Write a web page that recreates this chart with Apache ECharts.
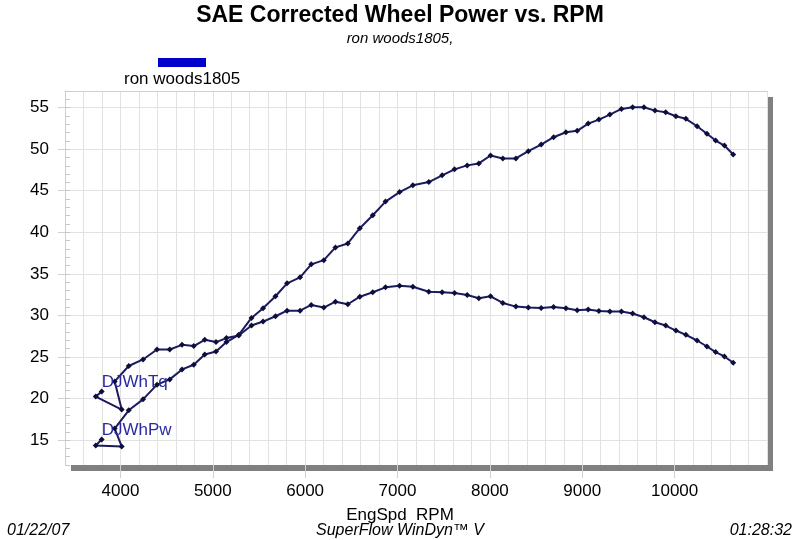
<!DOCTYPE html>
<html>
<head>
<meta charset="utf-8">
<script src="https://cdn.jsdelivr.net/npm/echarts@6/dist/echarts.min.js"></script>
<style>html,body{margin:0;padding:0;background:#fff}#c{width:800px;height:540px}</style>
</head>
<body>
<div id="c"></div>
<script>
// Data
const RPM = [3797,3733,4014,3938,4090,4245,4396,4534,4667,4794,4913,5035,5148,5281,5419,5544,5679,5804,5945,6066,6202,6328,6462,6592,6732,6870,7022,7166,7339,7483,7617,7754,7880,8007,8140,8281,8416,8555,8689,8823,8945,9064,9180,9299,9424,9545,9668,9787,9903,10014,10122,10243,10350,10444,10539,10634];
const TORQUE = [20.83,20.23,18.67,22.06,23.91,24.70,25.90,25.90,26.46,26.31,27.06,26.79,27.27,27.58,28.78,29.26,29.90,30.57,30.57,31.26,30.94,31.65,31.34,32.25,32.78,33.38,33.57,33.45,32.85,32.78,32.70,32.46,32.06,32.30,31.50,31.06,30.96,30.90,31.02,30.86,30.62,30.70,30.54,30.46,30.46,30.22,29.78,29.18,28.78,28.18,27.66,26.98,26.26,25.59,25.06,24.30];
const POWER = [15.07,14.35,14.23,16.39,18.58,19.90,21.67,22.30,23.50,24.06,25.30,25.66,26.79,27.66,29.70,30.86,32.30,33.86,34.58,36.14,36.65,38.18,38.66,40.49,42.05,43.69,44.84,45.65,46.04,46.85,47.57,48.05,48.29,49.24,48.88,48.88,49.76,50.56,51.44,52.04,52.21,53.08,53.56,54.16,54.84,55.04,55.04,54.64,54.44,53.96,53.65,52.76,51.85,51.04,50.44,49.36];
const X_TICKS = [4000,5000,6000,7000,8000,9000,10000];
const Y_TICKS = [15,20,25,30,35,40,45,50,55];
const SERIES_NAMES = ['DJWhTq','DJWhPw'];
const RUN_NAME = 'ron woods1805';

const FONT = 'Liberation Sans, Arial, sans-serif';
const LINE = '#1b1b5e';
const MARK = '#0e0e3c';
const BORDER = '#cfcfcf';

function buildData(vals, name) {
  return RPM.map((r, i) => i === 0
    ? { value: [r, vals[i]], label: { show: true, formatter: name, position: [3, -6], align: 'left', verticalAlign: 'middle', color: '#2b2ba0', fontSize: 17, fontFamily: FONT } }
    : [r, vals[i]]);
}

const chart = echarts.init(document.getElementById('c'), null, { renderer: 'canvas' });
chart.setOption({
  animation: false,
  backgroundColor: '#fff',
  title: [
    { text: 'SAE Corrected Wheel Power vs. RPM', left: 'center', top: 4, padding: 0, textStyle: { fontSize: 23, fontWeight: 'bold', fontFamily: FONT, color: '#000' } },
    { text: RUN_NAME + ',', left: 'center', top: 31, padding: 0, textStyle: { fontSize: 15, fontStyle: 'italic', fontWeight: 'normal', fontFamily: FONT, color: '#000' } },
    { text: 'EngSpd  RPM', left: 'center', top: 507, padding: 0, textStyle: { fontSize: 17, fontWeight: 'normal', fontFamily: FONT, color: '#000' } },
    { text: '01/22/07', left: 7, top: 523, padding: 0, textStyle: { fontSize: 16, fontStyle: 'italic', fontWeight: 'normal', fontFamily: FONT, color: '#000' } },
    { text: 'SuperFlow WinDyn\u2122 V', left: 'center', top: 523, padding: 0, textStyle: { fontSize: 16, fontStyle: 'italic', fontWeight: 'normal', fontFamily: FONT, color: '#000' } },
    { text: '01:28:32', right: 8, top: 523, padding: 0, textStyle: { fontSize: 16, fontStyle: 'italic', fontWeight: 'normal', fontFamily: FONT, color: '#000' } }
  ],
  graphic: [
    { type: 'rect', left: 158, top: 58, shape: { width: 48, height: 9 }, style: { fill: '#0000cc' } },
    { type: 'text', left: 124, top: 71, style: { text: RUN_NAME, fontSize: 17, fontFamily: FONT, fill: '#000' } }
  ],
  grid: {
    left: 65, right: 33, top: 91, bottom: 75,
    show: true, backgroundColor: '#fff', borderWidth: 0,
    shadowColor: '#808080', shadowBlur: 0, shadowOffsetX: 6, shadowOffsetY: 6
  },
  xAxis: [
    { type: 'value', min: 3400, max: 11000, interval: 200, position: 'bottom',
      axisLine: { show: false }, axisTick: { show: false }, axisLabel: { show: false },
      splitLine: { show: true, lineStyle: { color: '#e2e2e2', width: 1 } } },
    { type: 'value', min: 3400, max: 11000, interval: 200, position: 'bottom',
      axisLine: { show: false },
      axisTick: { show: true, customValues: X_TICKS, length: 13, lineStyle: { color: '#d0d0d0' } },
      axisLabel: { show: true, customValues: X_TICKS, margin: 18, fontSize: 17, fontFamily: FONT, color: '#000', formatter: v => String(v) },
      splitLine: { show: false } },
    { type: 'value', min: 3400, max: 11000, interval: 200, position: 'top',
      axisLine: { show: true, lineStyle: { color: BORDER, width: 1 } },
      axisTick: { show: false }, axisLabel: { show: false }, splitLine: { show: false } }
  ],
  yAxis: [
    { type: 'value', min: 12, max: 57, interval: 1, position: 'left',
      axisLine: { show: true, lineStyle: { color: BORDER, width: 1 } },
      axisTick: { show: true, inside: true, length: 5, lineStyle: { color: '#c8c8c8' } },
      axisLabel: { show: false }, splitLine: { show: false } },
    { type: 'value', min: 12, max: 57, interval: 1, position: 'left',
      axisLine: { show: false },
      axisTick: { show: true, customValues: Y_TICKS, length: 7, lineStyle: { color: '#d0d0d0' } },
      axisLabel: { show: true, customValues: Y_TICKS, margin: 16, fontSize: 17, fontFamily: FONT, color: '#000', formatter: v => String(v) },
      splitLine: { show: true, lineStyle: { color: '#e2e2e2', width: 1 } } }
  ],
  series: [
    { name: SERIES_NAMES[0], type: 'line', xAxisIndex: 0, yAxisIndex: 0, data: buildData(TORQUE, SERIES_NAMES[0]),
      symbol: 'diamond', symbolSize: 6, showAllSymbol: true,
      lineStyle: { color: LINE, width: 2 }, itemStyle: { color: MARK } },
    { name: SERIES_NAMES[1], type: 'line', xAxisIndex: 0, yAxisIndex: 0, data: buildData(POWER, SERIES_NAMES[1]),
      symbol: 'diamond', symbolSize: 6, showAllSymbol: true,
      lineStyle: { color: LINE, width: 2 }, itemStyle: { color: MARK } }
  ]
});
</script>
</body>
</html>
